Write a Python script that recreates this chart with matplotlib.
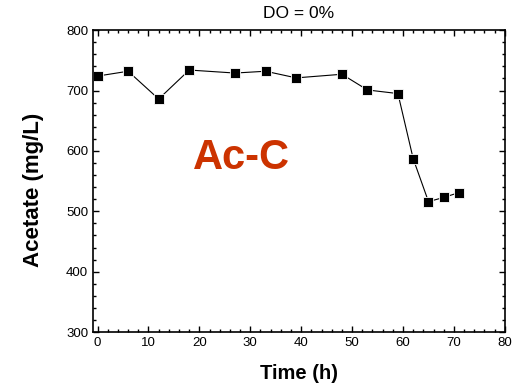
import matplotlib.pyplot as plt
from matplotlib.ticker import MultipleLocator

plt.rcParams['font.family'] = ['Liberation Sans', 'DejaVu Sans']

# Data
time_h = [0, 6, 12, 18, 27, 33, 39, 48, 53, 59, 62, 65, 68, 71]
acetate = [724, 732, 686, 734, 729, 732, 721, 727, 701, 695, 587, 516, 523, 531]

fig = plt.figure(figsize=(5.21, 3.87), dpi=100)
ax = fig.add_axes([0.1785, 0.142, 0.7905, 0.780])

ax.plot(time_h, acetate, color='black', lw=0.8, marker='s', markersize=6.8,
        markerfacecolor='black', markeredgecolor='white', markeredgewidth=0.6)

ax.set_xlim(-0.9, 80)
ax.set_ylim(300, 800)
ax.xaxis.set_major_locator(MultipleLocator(10))
ax.xaxis.set_minor_locator(MultipleLocator(2))
ax.yaxis.set_major_locator(MultipleLocator(100))
ax.yaxis.set_minor_locator(MultipleLocator(20))
ax.tick_params(which='both', direction='in', top=True, right=True, labelsize=9.5, width=1)
ax.tick_params(which='major', length=4)
ax.tick_params(which='minor', length=2.5)
for s in ax.spines.values():
    s.set_linewidth(1.2)

ax.set_xlabel('Time (h)', fontsize=14.5, fontweight='bold')
ax.xaxis.set_label_coords(0.5, -0.105)
ax.set_ylabel('Acetate (mg/L)', fontsize=16, fontweight='bold')
ax.yaxis.set_label_coords(-0.118, 0.47)
ax.set_title('DO = 0%', fontsize=12.5, pad=9)

ax.text(28.3, 588, 'Ac-C', color='#cc3300', fontsize=30, fontweight='bold',
        ha='center', va='center')

fig.savefig('out.png', dpi=100)
